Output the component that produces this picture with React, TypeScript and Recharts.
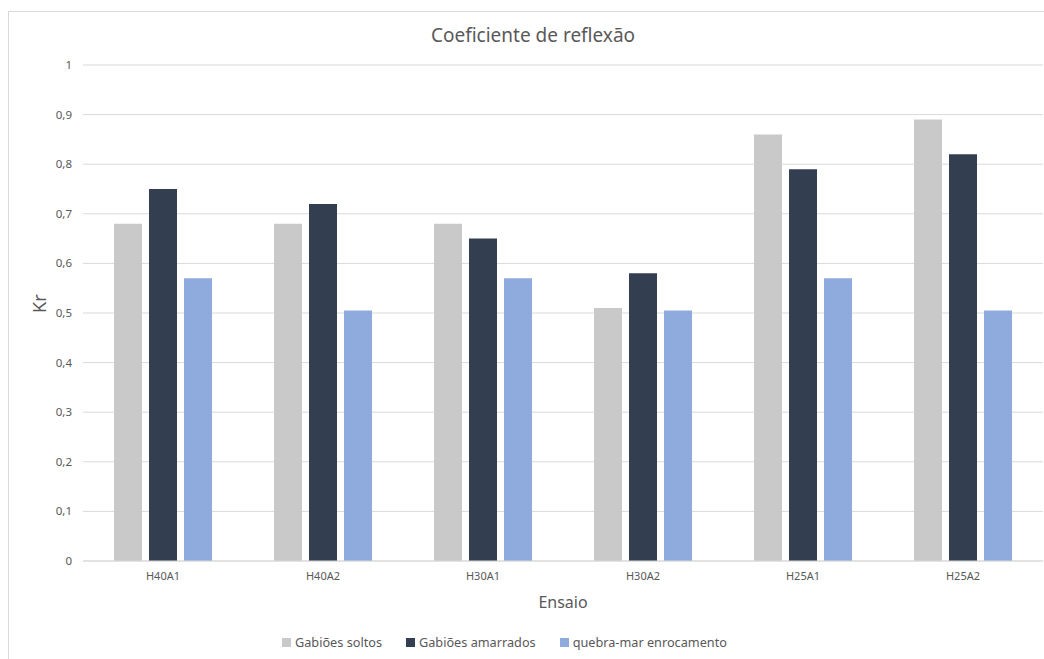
import { BarChart, Bar, XAxis, YAxis, CartesianGrid } from "recharts";

const ensaios = ["H40A1", "H40A2", "H30A1", "H30A2", "H25A1", "H25A2"];
const gabioesSoltos = [0.68, 0.68, 0.68, 0.51, 0.86, 0.89];
const gabioesAmarrados = [0.75, 0.72, 0.65, 0.58, 0.79, 0.82];
const quebraMar = [0.57, 0.505, 0.57, 0.505, 0.57, 0.505];
const yTicks = [0, 0.1, 0.2, 0.3, 0.4, 0.5, 0.6, 0.7, 0.8, 0.9, 1];

const series = [
  { key: "soltos", name: "Gabiões soltos", color: "#c9c9c9" },
  { key: "amarrados", name: "Gabiões amarrados", color: "#333f50" },
  { key: "quebra", name: "quebra-mar enrocamento", color: "#8faadc" },
];

const data = ensaios.map((name, i) => ({
  name,
  soltos: gabioesSoltos[i],
  amarrados: gabioesAmarrados[i],
  quebra: quebraMar[i],
}));

const FONT = "'Noto Sans', 'Open Sans', sans-serif";
const TEXT = "#595959";

export default function App() {
  return (
    <div style={{ position: "relative", width: 1044, height: 659, overflow: "hidden", background: "#fff" }}>
      <style>{"body{margin:0;overflow:hidden}"}</style>
      {/* outer frame */}
      <div style={{ position: "absolute", left: 8, top: 11, width: 1100, height: 700, borderLeft: "1px solid #d9d9d9", borderTop: "1px solid #d9d9d9" }} />
      <div style={{ position: "absolute", left: 0, width: 1066, top: 22, textAlign: "center", fontFamily: FONT, fontSize: 19, color: TEXT }}>
        Coeficiente de reflexão
      </div>
      <div style={{ position: "absolute", left: 0, top: 0 }}>
        <BarChart
          width={1044}
          height={659}
          data={data}
          margin={{ top: 65, right: 1, bottom: 0, left: 0 }}
          barSize={28}
          barGap={7}
        >
          <CartesianGrid vertical={false} stroke="#d9d9d9" />
          <XAxis
            dataKey="name"
            axisLine={{ stroke: "#d9d9d9" }}
            tickLine={false}
            tickSize={0}
            tickMargin={11}
            height={98}
            tick={{ fill: TEXT, fontSize: 11, fontFamily: FONT }}
            label={{ value: "Ensaio", position: "insideTop", dy: 31, fill: TEXT, fontSize: 16, fontFamily: FONT }}
          />
          <YAxis
            domain={[0, 1]}
            ticks={yTicks}
            width={83}
            axisLine={false}
            tickLine={false}
            tickSize={0}
            tickMargin={11}
            tickFormatter={(v: number) => String(v).replace(".", ",")}
            tick={{ fill: TEXT, fontSize: 11.5, fontFamily: FONT }}
            label={{ value: "Kr", angle: -90, position: "insideLeft", dx: 35, fill: TEXT, fontSize: 18, fontFamily: FONT }}
          />
          {series.map((s) => (
            <Bar key={s.key} dataKey={s.key} name={s.name} fill={s.color} isAnimationActive={false} />
          ))}
        </BarChart>
      </div>
      {/* legend */}
      <div
        style={{
          position: "absolute",
          left: 282,
          top: 633,
          display: "flex",
          fontFamily: FONT,
          fontSize: 12.7,
          color: TEXT,
        }}
      >
        {series.map((s) => (
          <div key={s.key} style={{ display: "flex", alignItems: "center", marginRight: 24 }}>
            <span style={{ width: 9, height: 9, background: s.color, marginRight: 4, display: "inline-block" }} />
            <span>{s.name}</span>
          </div>
        ))}
      </div>
    </div>
  );
}
